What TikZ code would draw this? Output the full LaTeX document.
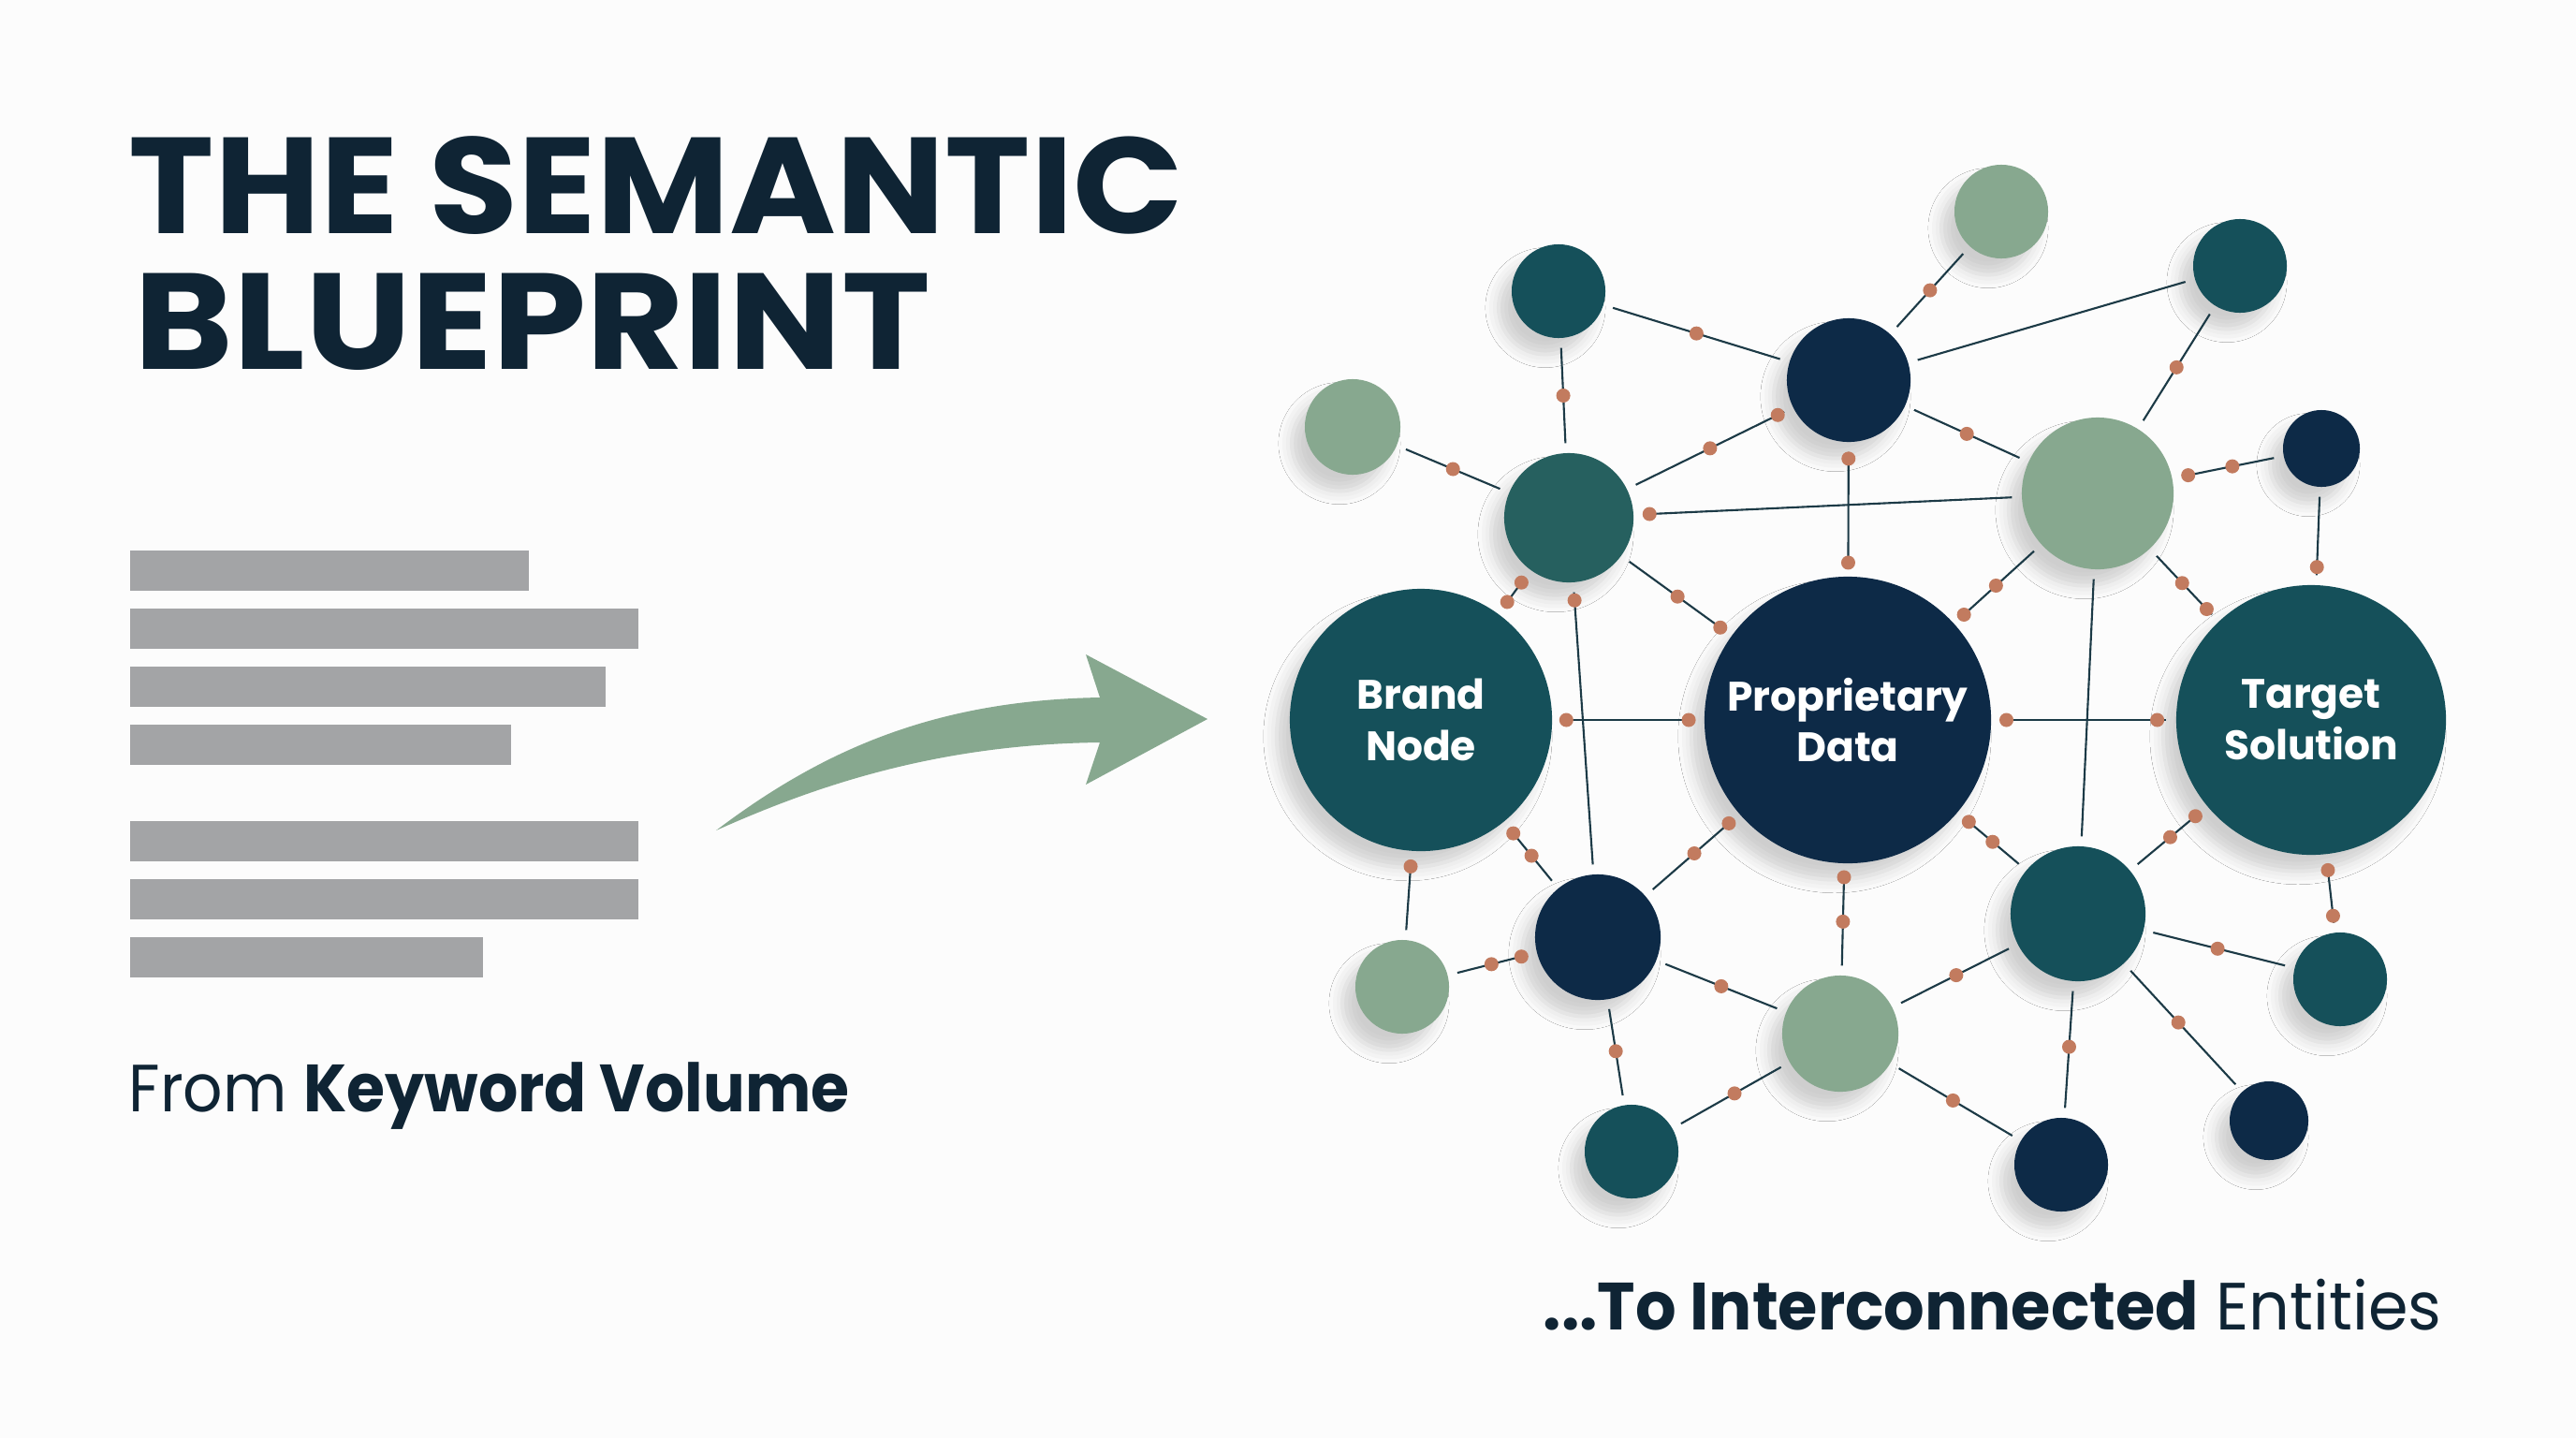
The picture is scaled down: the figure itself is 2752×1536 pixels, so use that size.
\documentclass[tikz,border=0pt]{standalone}
\usepackage{fontspec}
\setmainfont{Poppins}
\usetikzlibrary{shadows.blur}

\definecolor{paper}{HTML}{FCFCFC}
\definecolor{ink}{HTML}{0F2434}
\definecolor{navy}{HTML}{0D2A47}
\definecolor{teal}{HTML}{15505A}
\definecolor{tealmid}{HTML}{26605F}
\definecolor{sage}{HTML}{87A88F}
\definecolor{dotcol}{HTML}{C27B5F}
\definecolor{linecol}{HTML}{1C3A46}
\definecolor{barcol}{HTML}{A3A4A6}

\begin{document}
\begin{tikzpicture}[x=0.01cm, y=-0.01cm,
    ent/.style={circle, inner sep=0pt,
      blur shadow={shadow xshift=-4pt, shadow yshift=-5pt, shadow blur radius=4pt, shadow opacity=18}},
    hub/.style={ent, text=white, align=center, font=\bfseries\fontsize{12.5}{15.6}\selectfont},
    link/.style={draw=linecol, line width=0.6pt, shorten <=0.1cm, shorten >=0.1cm},
    dot/.style={circle, fill=dotcol, inner sep=0pt, minimum size=0.15cm},
    bar/.style={fill=barcol}]
  % page
  \fill[paper] (0,0) rectangle (2752,1536);
  \useasboundingbox (0,0) rectangle (2752,1536);

  % title
  \node[anchor=base west, inner sep=0pt, text=ink, font=\bfseries\fontsize{41.5}{45}\selectfont] (title1) at (137,249)
    {\scalebox{1.06}[1]{THE SEMANTIC}};
  \node[anchor=base west, inner sep=0pt, text=ink, font=\bfseries\fontsize{41.5}{45}\selectfont] (title2) at (143,394)
    {\scalebox{1.10}[1]{BLUEPRINT}};

  % keyword list, seven grey lines
  \foreach \y/\w in {588/565, 650/682, 712/647, 774/546, 877/682, 939/682, 1001/516}
    \fill[bar] (139,\y) rectangle (\w,\y+43);

  \node[anchor=base west, inner sep=0pt, text=ink, font=\fontsize{20.3}{24}\selectfont] (from) at (137,1187)
    {\scalebox{0.93}[1]{From \textbf{Keyword Volume}}};

  % sweeping arrow
  \fill[sage] (765,887) .. controls (880,800) and (1000,748) .. (1175,745) -- (1160,699) -- (1290,768)
    -- (1160,838) -- (1175,793) .. controls (1000,795) and (870,840) .. cycle;

  % the three hubs
  \node[hub, fill=teal, minimum size=2.80cm] (brand) at (1518,769) {Brand\\Node};
  \node[hub, fill=navy, minimum size=3.06cm] (propdata) at (1974,769) {Proprietary\\Data};
  \node[hub, fill=teal, minimum size=2.88cm] (target) at (2469,769) {Target\\Solution};

  % surrounding entities: name/x/y/radius/colour
  \foreach \n/\x/\y/\rr/\c in {e1/1665/311/50/teal, e2/2138/226/50/sage, e3/2393/284/50/teal,
      e4/1975/406/66/navy, e5/1445/456/51/sage, e6/1676/553/69/tealmid, e7/2241/527/81/sage,
      e8/2480/479/41/navy, e9/1707/1001/67/navy, e10/1498/1054/50/sage, e11/2220/976/72/teal,
      e12/1966/1104/62/sage, e13/2500/1046/50/teal, e14/1743/1230/50/teal,
      e15/2202/1244/50/navy, e16/2424/1197/42/navy}
    \node[ent, fill=\c, minimum size=\rr*0.02cm] (\n) at (\x,\y) {};

  % links without dots
  \foreach \a/\b in {e3/e4, e7/e11}
    \draw[link] (\a) -- (\b);
  % links with one dot
  \foreach \a/\b/\p in {e1/e4/0.5, e2/e4/0.5, e3/e7/0.5, e1/e6/0.5, e5/e6/0.5, e4/e7/0.5,
      e6/e7/0.04, e8/target/0.82, e6/e9/0.06, brand/e10/0.17, e9/e12/0.5, e12/e11/0.51,
      e11/e13/0.49, e9/e14/0.49, e12/e14/0.47, e12/e15/0.48, e11/e15/0.48, e11/e16/0.46}
    \draw[link] (\a) -- (\b) node[dot, pos=\p] {};
  % links with two dots
  \foreach \a/\b/\p/\q in {e4/e6/0.09/0.5, e4/propdata/0.12/0.9, e7/e8/0.14/0.54,
      e7/propdata/0.52/0.89, e7/target/0.47/0.83, e6/brand/0.28/0.73, e6/propdata/0.51/0.9,
      brand/propdata/0.09/0.9, propdata/target/0.08/0.9, brand/e9/0.17/0.51,
      propdata/e9/0.11/0.48, propdata/e12/0.12/0.52, propdata/e11/0.16/0.51,
      target/e11/0.15/0.48, target/e13/0.2/0.79, e10/e9/0.49/0.83}
    \draw[link] (\a) -- (\b) node[dot, pos=\p] {} node[dot, pos=\q] {};

  \node[anchor=base east, inner sep=0pt, text=ink, font=\fontsize{20.3}{24}\selectfont] (to) at (2609,1420)
    {\scalebox{0.96}[1]{\textbf{...To Interconnected} Entities}};
\end{tikzpicture}
\end{document}
